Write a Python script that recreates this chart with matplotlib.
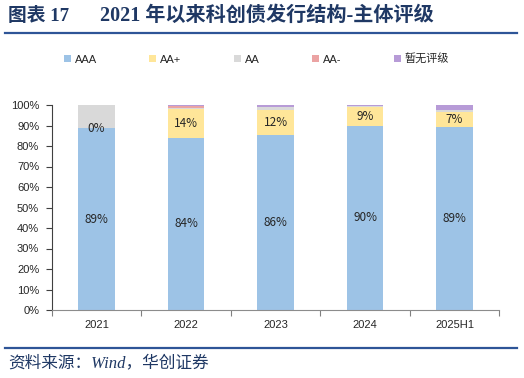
import matplotlib
matplotlib.use('Agg')
import matplotlib.pyplot as plt
import numpy
from matplotlib.lines import Line2D
from matplotlib.patches import Patch

matplotlib.rcParams.update({
    'font.family': ['Liberation Sans', 'Noto Sans CJK SC'],
    'font.size': 8,
    'axes.linewidth': 0.8,
})

# shares of issuance by issuer rating, %
years = ['2021', '2022', '2023', '2024', '2025H1']
aaa = [88.6, 84.0, 85.6, 89.9, 89.2]
aa_plus = [0.0, 13.9, 12.0, 9.3, 7.4]
aa = [11.4, 0.8, 1.4, 0.3, 0.9]
aa_minus = [0.0, 0.6, 0.2, 0.0, 0.3]
unrated = [0.0, 0.7, 0.8, 0.5, 2.2]

series = [aaa, aa_plus, aa, aa_minus, unrated]
names = ['AAA', 'AA+', 'AA', 'AA-', '暂无评级']
colors = ['#9DC3E6', '#FFE699', '#D9D9D9', '#EBA3A3', '#B79BD7']
navy = '#1F3864'
rule_blue = '#2E5597'
serif_cjk = ['Liberation Serif', 'Noto Sans CJK SC']

fig = plt.figure(figsize=(5.24, 3.78), dpi=100)
ax = fig.add_axes([51.7 / 524, 68 / 378, 447.6 / 524, 205 / 378])

x = numpy.arange(len(years))
bottom = numpy.zeros(len(years))
for vals, name, color in zip(series, names, colors):
    vals = numpy.array(vals)
    ax.bar(x, vals, width=0.405, bottom=bottom, color=color, label=name,
           linewidth=0)
    if name in ('AAA', 'AA+'):
        for xi, b, v in zip(x, bottom, vals):
            ax.text(xi, b + v / 2, '%d%%' % round(v), ha='center',
                    va='center', fontsize=8.5, color='#262626',
                    family=['Noto Sans CJK SC', 'DejaVu Sans'])
    bottom += vals

ax.set_xlim(-0.5, len(years) - 0.5)
ax.set_ylim(0, 100)
ax.set_yticks(numpy.arange(0, 101, 10))
ax.set_yticklabels(['%d%%' % v for v in range(0, 101, 10)])
ax.set_xticks(x)
ax.set_xticklabels(years)
ax.set_xticks(numpy.arange(-0.5, len(years), 1), minor=True)
ax.tick_params(axis='x', which='major', length=0, pad=7, labelsize=8,
               labelcolor='#262626')
ax.tick_params(axis='x', which='minor', length=4, width=0.8,
               color='#808080', direction='out')
ax.tick_params(axis='y', length=4, width=0.8, color='#404040',
               direction='out', pad=5, labelsize=8, labelcolor='#262626')
for side in ('top', 'right'):
    ax.spines[side].set_visible(False)
ax.spines['left'].set_color('#404040')
ax.spines['bottom'].set_color('#8C8C8C')

handles = [Patch(facecolor=c, edgecolor='none') for c in colors]
fig.legend(handles, names, loc='center left',
           bbox_to_anchor=(64 / 524, 1 - 59 / 378), ncol=5, frameon=False,
           borderpad=0, borderaxespad=0, handlelength=0.6, handleheight=0.6,
           handletextpad=0.35, columnspacing=4.75, fontsize=8,
           labelcolor='#262626')

# header and footer
fig.text(8 / 524, 1 - 16 / 378, '图表 17', fontsize=13.5, fontweight='bold',
         color=navy, va='center', ha='left', family=serif_cjk)
fig.text(100 / 524, 1 - 16 / 378, '2021 年以来科创债发行结构-主体评级',
         fontsize=14.5, fontweight='bold', color=navy, va='center',
         ha='left', family=serif_cjk)
fig.add_artist(Line2D([5 / 524, 517 / 524], [1 - 33 / 378, 1 - 33 / 378],
                      color=rule_blue, linewidth=1.6))
fig.add_artist(Line2D([5 / 524, 517 / 524], [1 - 348 / 378, 1 - 348 / 378],
                      color=rule_blue, linewidth=1.6))
fig.text(8 / 524, 1 - 363 / 378, '资料来源：Wind，华创证券', fontsize=12,
         style='italic', color=navy, va='center', ha='left',
         family=serif_cjk)

fig.savefig('out.png', dpi=100)
plt.close()
